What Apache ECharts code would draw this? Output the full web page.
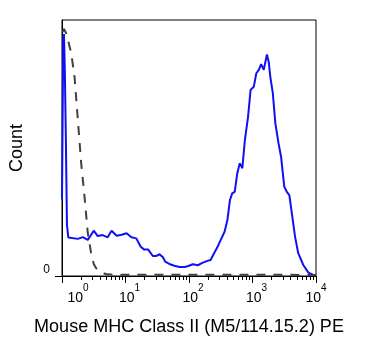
<!DOCTYPE html>
<html>
<head>
<meta charset="utf-8">
<script src="https://cdn.jsdelivr.net/npm/echarts@6/dist/echarts.min.js"></script>
<style>html,body{margin:0;padding:0;background:#fff}#c{width:365px;height:360px}</style>
</head>
<body>
<div id="c"></div>
<script>
// x values are log10(PE intensity) in decades; y values are relative count
const blueLogPE = [0.0, 0.02, 0.031, 0.045, 0.06, 0.078, 0.10, 0.12, 0.25, 0.328, 0.406, 0.5, 0.5625, 0.64, 0.72, 0.78, 0.86, 0.94, 1.016, 1.094, 1.17, 1.24, 1.29, 1.355, 1.43, 1.48, 1.536, 1.59, 1.625, 1.69, 1.77, 1.85, 1.93, 1.99, 2.06, 2.14, 2.21, 2.29, 2.34, 2.395, 2.45, 2.5, 2.56, 2.605, 2.645, 2.68, 2.72, 2.76, 2.80, 2.84, 2.88, 2.93, 2.97, 3.02, 3.06, 3.10, 3.136, 3.177, 3.227, 3.255, 3.28, 3.32, 3.36, 3.41, 3.45, 3.50, 3.54, 3.58, 3.62, 3.67, 3.72, 3.80, 3.88, 3.96, 4.0];
const blueCount = [30, 93, 94.5, 80, 55, 20, 15.0, 14.7, 14.5, 15.2, 14.1, 17.7, 15.6, 16.0, 15.1, 17.7, 15.7, 16.1, 16.7, 15.1, 14.7, 11.4, 10.4, 10.4, 7.8, 7.8, 8.5, 7.3, 5.6, 4.7, 4.0, 3.5, 3.5, 3.9, 4.6, 4.2, 5.1, 5.9, 6.25, 8.9, 11.4, 14.1, 17.3, 21.9, 29.7, 32.3, 32.9, 40.1, 44.0, 42.1, 53.1, 62.2, 72.7, 73.9, 79.2, 80.5, 82.8, 80.5, 86.5, 83.7, 77.9, 71.4, 59.6, 51.8, 46.6, 34.9, 32.9, 31.6, 24.5, 15.4, 8.9, 4.3, 1.3, 0.4, 0.3];
const isoLogPE = [0.008, 0.031, 0.063, 0.094, 0.145, 0.198, 0.25, 0.302, 0.355, 0.406, 0.458, 0.5, 0.536, 0.578, 0.614, 0.688, 0.81, 1.2, 2.0, 3.0, 4.0];
const isoCount = [95.3, 96.5, 94.9, 92.2, 87.1, 77.7, 60.9, 44.1, 30.9, 16.8, 9.0, 4.7, 3.1, 2.0, 1.4, 0.8, 0.5, 0.5, 0.5, 0.5, 0.4];
const majorDecades = [0, 1, 2, 3, 4];
const minorMultipliers = [2, 3, 4, 5, 6, 7, 8, 9];
const yTickValues = [0];
const xTitle = 'Mouse MHC Class II (M5/114.15.2) PE';
const yTitle = 'Count';

const minorTicks = [];
majorDecades.slice(0, -1).forEach(d => minorMultipliers.forEach(m => minorTicks.push(d + Math.log10(m))));

const font = '"Liberation Sans", Arial, sans-serif';
const chart = echarts.init(document.getElementById('c'), null, {renderer: 'canvas'});
chart.setOption({
  animation: false,
  backgroundColor: '#fff',
  grid: {left: 60, right: 49, top: 20, bottom: 84, show: true, borderColor: '#000', borderWidth: 1, containLabel: false},
  xAxis: [{
    type: 'value', min: 0, max: 4, interval: 1, position: 'bottom',
    name: xTitle, nameLocation: 'middle', nameGap: 42,
    nameTextStyle: {fontFamily: font, fontSize: 18, color: '#000'},
    axisLine: {show: true, lineStyle: {color: '#000', width: 1}},
    axisTick: {show: true, inside: false, length: 7, lineStyle: {color: '#000'}},
    splitLine: {show: false},
    axisLabel: {
      show: true, margin: 7, showMinLabel: true, showMaxLabel: true,
      formatter: function (v) {
        const key = v === 0 ? 'b0' : (v === 4 ? 'b4' : 'b');
        return '{' + key + '|10}{s|' + v + '}';
      },
      rich: {
        b: {fontFamily: font, fontSize: 14, color: '#000', lineHeight: 22, verticalAlign: 'bottom', padding: [0, 0, 0, 8]},
        b0: {fontFamily: font, fontSize: 14, color: '#000', lineHeight: 22, verticalAlign: 'bottom', padding: [0, 0, 0, 32]},
        b4: {fontFamily: font, fontSize: 14, color: '#000', lineHeight: 22, verticalAlign: 'bottom', padding: [0, 0, 0, 0]},
        s: {fontFamily: font, fontSize: 10, color: '#000', lineHeight: 10, verticalAlign: 'top'}
      }
    }
  }, {
    type: 'value', min: 0, max: 4, position: 'bottom',
    axisLine: {show: false},
    axisTick: {show: true, inside: false, length: 4, customValues: minorTicks, lineStyle: {color: '#000'}},
    axisLabel: {show: false},
    splitLine: {show: false}
  }],
  yAxis: {
    type: 'value', min: 0, max: 100,
    name: yTitle, nameLocation: 'middle', nameGap: 36,
    nameTextStyle: {fontFamily: font, fontSize: 18, color: '#000'},
    axisLine: {show: true, lineStyle: {color: '#000', width: 1}},
    axisTick: {show: true, length: 7, customValues: yTickValues, lineStyle: {color: '#000'}},
    axisLabel: {show: true, customValues: yTickValues, margin: 12, fontFamily: font, fontSize: 12, color: '#000', verticalAlign: 'bottom'},
    splitLine: {show: false}
  },
  series: [{
    type: 'line', xAxisIndex: 0,
    data: blueLogPE.map((x, i) => [x, blueCount[i]]),
    showSymbol: false, smooth: false,
    lineStyle: {color: '#1010f5', width: 2},
    z: 2
  }, {
    type: 'line', xAxisIndex: 0,
    data: isoLogPE.map((x, i) => [x, isoCount[i]]),
    showSymbol: false, smooth: false,
    lineStyle: {color: '#404040', width: 2, type: [9, 8]},
    z: 3
  }]
});
</script>
</body>
</html>
